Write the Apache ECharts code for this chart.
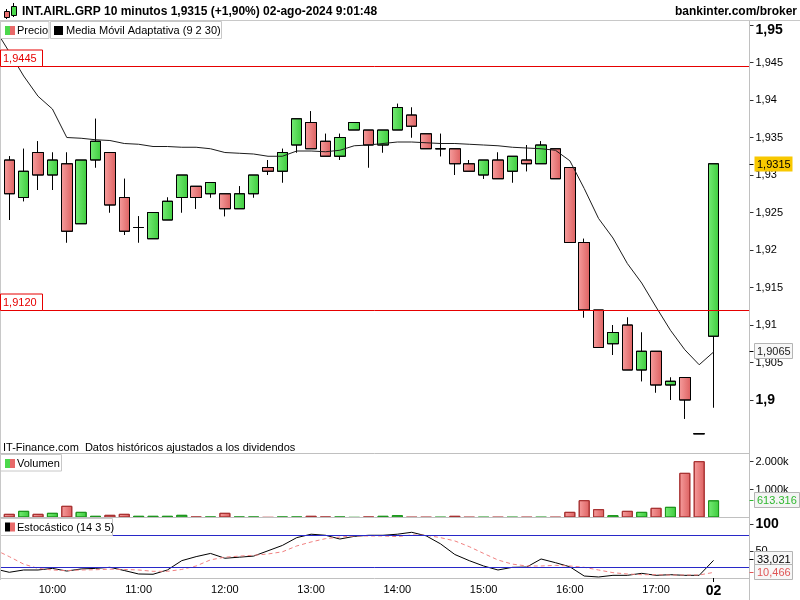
<!DOCTYPE html>
<html><head><meta charset="utf-8">
<script src="https://cdn.jsdelivr.net/npm/echarts@6/dist/echarts.min.js"></script>
<style>html,body{margin:0;padding:0;background:#fff}#c{width:800px;height:600px}</style>
</head><body><div id="c"></div>
<script>
// ---------- DATA ----------
const categories = ['9:20','9:30','9:40','9:50','10:00','10:10','10:20','10:30','10:40','10:50',
 '11:00','11:10','11:20','11:30','11:40','11:50','12:00','12:10','12:20','12:30','12:40','12:50',
 '13:00','13:10','13:20','13:30','13:40','13:50','14:00','14:10','14:20','14:30','14:40','14:50',
 '15:00','15:10','15:20','15:30','15:40','15:50','16:00','16:10','16:20','16:30','16:40','16:50',
 '17:00','17:10','17:20','17:30','02','',''];
const opens = [null,
 1.932,1.927,1.933,1.930,1.9315,1.9235,1.932,1.933,1.927,1.923,
 1.9215,1.924,1.927,1.9285,1.9275,1.9275,1.9255,1.9275,1.931,1.9305,
 1.934,1.937,1.9345,1.9325,1.936,1.936,1.934,1.936,1.938,1.9355,
 1.9335,1.9335,1.9315,1.930,1.932,1.9305,1.932,1.9315,1.9335,1.931,
 1.921,1.912,1.9075,1.910,1.904,1.9065,1.902,1.903,1.8955,1.9085];
const highs = [null,
 1.9325,1.9335,1.9345,1.933,1.933,1.932,1.9375,1.933,1.9295,1.9245,
 1.925,1.927,1.930,1.9285,1.929,1.9275,1.9285,1.930,1.932,1.9335,
 1.9375,1.9385,1.9355,1.9355,1.937,1.936,1.936,1.9395,1.939,1.9355,
 1.9355,1.9335,1.932,1.932,1.933,1.9325,1.934,1.9345,1.9335,1.931,
 1.9215,1.912,1.910,1.911,1.909,1.9065,1.903,1.903,1.8955,1.9315];
const lows = [null,
 1.924,1.9265,1.928,1.928,1.921,1.9235,1.931,1.925,1.922,1.921,
 1.9215,1.924,1.925,1.9255,1.927,1.9245,1.9255,1.927,1.930,1.929,
 1.933,1.9335,1.9325,1.932,1.936,1.931,1.933,1.936,1.935,1.9335,
 1.9325,1.930,1.9305,1.9295,1.9295,1.929,1.9305,1.9315,1.9295,1.921,
 1.911,1.907,1.906,1.904,1.9025,1.901,1.900,1.8975,1.8955,1.899];
const closes = [null,
 1.9275,1.9305,1.930,1.932,1.9225,1.932,1.9345,1.926,1.9225,1.923,
 1.925,1.9265,1.930,1.927,1.929,1.9255,1.9275,1.930,1.9305,1.933,
 1.9375,1.9335,1.9325,1.935,1.937,1.934,1.936,1.939,1.9365,1.9335,
 1.9335,1.9315,1.9305,1.932,1.9295,1.9325,1.9315,1.934,1.9295,1.921,
 1.912,1.907,1.909,1.904,1.9065,1.902,1.9025,1.900,1.8955,1.9315];
const maValues = [1.9495,
 1.9464,1.9432,1.9405,1.9388,1.9350,1.9349,1.9347,1.9346,1.9342,1.9341,
 1.9338,1.9338,1.9337,1.9337,1.9335,1.9330,1.9329,1.9328,1.9325,1.9325,
 1.9332,1.9332,1.9331,1.9333,1.9339,1.9340,1.9342,1.9344,1.9344,1.9343,
 1.9342,1.9342,1.9341,1.9340,1.9339,1.9337,1.9336,1.9335,1.9333,1.9319,
 1.9282,1.9242,1.9216,1.9182,1.9156,1.9124,1.9093,1.9067,1.9047,1.9064];
const volumes = [null,
 131,238,131,167,417,202,60,95,131,60,
 60,60,95,24,24,167,24,24,5,24,
 24,60,24,24,5,24,60,83,12,12,
 12,60,12,12,12,12,12,12,12,202,
 619,298,83,238,202,345,381,1595,2012,613.316];
const stochK = [17,
 10.7,15,15,18,13,17,18,20,14,7.5,
 7,15,32.5,40,46,37,39,41,51,61,
 75.6,82,80,73,78,80,80,82,85.6,79,
 64,44,32.5,22.5,15,20,20.5,35.6,28.7,21,
 3.7,1.9,5,5,8.7,5,6.2,5,5,33.021];
const stochD = [53,
 40,26,18,15,14,15,15.5,16.5,16,15,
 12.5,12.5,16,22.5,34,39,41,42.5,45,49,
 60,67.5,73.7,76.7,78.7,78.7,78.7,77.5,80.6,80,
 75.6,69.4,58.7,46,33.7,26,22.5,22.5,23.7,22.5,
 20,15,10,7.5,6.2,6.2,5.6,5.6,5.6,10.466];
const priceTicks = [1.9,1.905,1.91,1.915,1.92,1.925,1.93,1.935,1.94,1.945,1.95];
const volumeTicks = [1000, 2000];
const stochTicks = [50, 100];
const refLines = [1.9445, 1.9120];
const stochLevels = [20, 80];
const lastPrice = 1.9315, lastMA = 1.9065, lastVolume = 613.316, lastK = 33.021, lastD = 10.466;
const titleText = 'INT.AIRL.GRP 10 minutos 1,9315 (+1,90%) 02-ago-2024 9:01:48';

// ---------- STYLE ----------
const FONT = '"Liberation Sans", Arial, sans-serif';
const G = echarts.graphic.LinearGradient;
const greenG = () => new G(0,0,1,0,[{offset:0,color:'#76ec76'},{offset:1,color:'#3dcb3d'}]);
const redG = () => new G(0,0,1,0,[{offset:0,color:'#f69e9e'},{offset:1,color:'#dd6060'}]);
const fmtPrice = v => String(+(+v).toFixed(4)).replace('.', ',');
const fmtVol = v => { const s = String(Math.round(v)); return s.replace(/\B(?=(\d{3})+(?!\d))/g, '.') + 'k'; };
const isUp = k => closes[k] > opens[k] || (closes[k] === opens[k] && (k < 2 || closes[k] >= closes[k-1]));

const GL = -12.27, GR = 50.5;
const candleData = categories.map((c,k) => (k < opens.length && opens[k] != null) ? [opens[k], closes[k], lows[k], highs[k]] : '-');
const volData = categories.map((c,k) => {
  if (k >= volumes.length || volumes[k] == null) return '-';
  const up = isUp(k);
  return {value: volumes[k], itemStyle: {color: up ? greenG() : redG(), borderColor: up ? '#1e961e' : '#a83232', borderWidth: 1}};
});

const chart = echarts.init(document.getElementById('c'), null, {renderer:'canvas', width:800, height:600});
const hiddenX = (gi) => ({type:'category', gridIndex: gi, data: categories, boundaryGap: true, show: false});
const gridBase = {left: GL, right: GR, containLabel: false, outerBoundsMode: 'none'};
chart.setOption({
  animation: false,
  textStyle: {fontFamily: FONT},
  grid: [
    Object.assign({top: 25, height: 412.5}, gridBase),
    Object.assign({top: 454, height: 63.5}, gridBase),
    Object.assign({top: 524.6, height: 53.4}, gridBase)
  ],
  xAxis: [hiddenX(0), hiddenX(1), {
    type:'category', gridIndex: 2, data: categories, boundaryGap: true, offset: 2,
    axisLine: {show: true, lineStyle: {color: '#c0c0c0', width: 1}},
    axisTick: {show: true, alignWithLabel: true, length: 4, interval: (i, v) => v === '02', lineStyle: {color: '#000'}},
    axisLabel: {interval: (i, v) => /:00$/.test(v) || v === '02', margin: 4, fontSize: 11, color: '#000', fontFamily: FONT,
      formatter: v => v === '02' ? '{b|02}' : v,
      rich: {b: {fontWeight: 'bold', fontSize: 14, fontFamily: FONT, color: '#000'}}},
    splitLine: {show: false}
  }],
  yAxis: [
    {type:'value', gridIndex: 0, position: 'right', min: 1.895, max: 1.95, interval: 0.005,
     splitLine: {show:false}, axisLine: {show:false},
     axisTick: {show:true, length:4, customValues: priceTicks, lineStyle:{color:'#333'}},
     axisLabel: {customValues: priceTicks, margin: 6, fontSize: 11, color:'#000', fontFamily: FONT,
       formatter: v => { const s = fmtPrice(v); if (Math.abs(v-1.95)<1e-9) return '{t|'+s+'}'; if (Math.abs(v-1.9)<1e-9) return '{b|'+s+'}'; if (!priceTicks.some(t=>Math.abs(t-v)<1e-9)) return ''; return s; },
       rich: {b:{fontWeight:'bold', fontSize:14, fontFamily:FONT, color:'#000'}, t:{fontWeight:'bold', fontSize:14, fontFamily:FONT, color:'#000', padding:[10,0,0,0]}}}},
    {type:'value', gridIndex: 1, position: 'right', min: 0, max: 63.5/28*1000,
     splitLine: {show:false}, axisLine: {show:false},
     axisTick: {show:true, length:4, customValues: volumeTicks, lineStyle:{color:'#333'}},
     axisLabel: {customValues: volumeTicks, margin: 6, fontSize: 11, color:'#000', fontFamily: FONT,
       formatter: v => volumeTicks.includes(v) ? fmtVol(v) : ''}},
    {type:'value', gridIndex: 2, position: 'right', min: 0, max: 100, interval: 50,
     splitLine: {show:false}, axisLine: {show:false},
     axisTick: {show:true, length:4, customValues: stochTicks, lineStyle:{color:'#333'}},
     axisLabel: {customValues: stochTicks, margin: 6, fontSize: 11, color:'#000', fontFamily: FONT,
       formatter: v => v === 100 ? '{b|100}' : (v === 50 ? '50' : ''),
       rich: {b:{fontWeight:'bold', fontSize:14, fontFamily:FONT, color:'#000'}}}}
  ],
  series: [
    {type:'candlestick', xAxisIndex:0, yAxisIndex:0, data: candleData, barWidth: 11,
     itemStyle: {color: greenG(), color0: redG(), borderColor:'#000', borderColor0:'#000', borderColorDoji:'#000', borderWidth: 1},
     markLine: {silent: true, precision: 6, symbol: ['none','none'], label: {show:false},
       lineStyle: {color:'#e60000', type:'solid', width:1},
       data: refLines.map(v => ({yAxis: v}))}},
    {type:'line', xAxisIndex:0, yAxisIndex:0, data: maValues, showSymbol:false, symbol:'none',
     lineStyle: {color:'#1c1c1c', width:1}},
    {type:'bar', xAxisIndex:1, yAxisIndex:1, data: volData, barWidth: 11},
    {type:'line', xAxisIndex:2, yAxisIndex:2, data: stochK, symbol:'none', lineStyle:{color:'#000', width:1},
     markLine: {silent:true, precision: 4, symbol:['none','none'], label:{show:false},
       lineStyle:{color:'#2828c8', type:'solid', width:1}, data: stochLevels.map(v => ({yAxis: v}))}},
    {type:'line', xAxisIndex:2, yAxisIndex:2, data: stochD, symbol:'none', lineStyle:{color:'#f08080', width:1, type:[4,3]}}
  ]
});

// ---------- OVERLAY GRAPHICS ----------
const py = v => chart.convertToPixel({yAxisIndex:0}, v);
const vy = v => chart.convertToPixel({yAxisIndex:1}, v);
const sy = v => chart.convertToPixel({yAxisIndex:2}, v);
const Z = 100;
const line = (x1,y1,x2,y2,c) => ({type:'line', z:Z, shape:{x1,y1,x2,y2}, style:{stroke:c, lineWidth:1}});
const rect = (x,y,w,h,fill,stroke) => ({type:'rect', z:Z, shape:{x,y,width:w,height:h}, style:{fill, stroke: stroke||null, lineWidth:1}});
const text = (x,y,t,font,fill,align) => ({type:'text', z:Z+1, x, y, style:{text:t, font, fill, align: align||'left', verticalAlign:'middle'}});
const F11 = '11px ' + FONT, B12 = 'bold 12px ' + FONT;
const valueBox = (y, t, txtColor, fill, stroke, tickColor, w) => [
  line(749.5, Math.round(y)+0.5, 753.5, Math.round(y)+0.5, tickColor),
  rect(754.5, Math.round(y)-7.5, w || 37, 15, fill, stroke),
  text(757, Math.round(y)+0.5, t, F11, txtColor)
];
const gfx = [];
// frame lines
gfx.push(line(0, 20.5, 800, 20.5, '#c8c8c8'));
gfx.push(line(749.5, 21, 749.5, 600, '#c0c0c0'));
gfx.push(line(0.5, 21, 0.5, 580, '#c8c8c8'));
gfx.push(line(0, 453.5, 749.5, 453.5, '#c0c0c0'));
gfx.push(line(0, 517.5, 749.5, 517.5, '#c0c0c0'));
// title
gfx.push(line(6.5, 9, 6.5, 19, '#000'), rect(4.5, 11.5, 5, 6, '#ea7070', '#000'));
gfx.push(line(13.5, 3, 13.5, 17, '#000'), rect(11.5, 6.5, 5, 9, '#4cd84c', '#000'));
gfx.push(text(22, 12, titleText, B12, '#000'));
gfx.push(text(797, 12, 'bankinter.com/broker', B12, '#000', 'right'));
// legends
gfx.push(rect(0.5, 21.5, 48.5, 17, '#fff', '#c8c8c8'), rect(5, 26, 5, 9, '#4cd84c'), rect(10, 26, 5, 9, '#e86a6a'), text(17, 30.5, 'Precio', F11, '#000'));
gfx.push(rect(50.5, 21.5, 171, 17, '#fff', '#c8c8c8'), rect(54, 26, 9, 9, '#000'), text(66, 30.5, 'Media Móvil Adaptativa (9 2 30)', F11, '#000'));
gfx.push(text(3, 448, 'IT-Finance.com  Datos históricos ajustados a los dividendos', F11, '#000'));
gfx.push(rect(0.5, 454.5, 61, 16.5, '#fff', '#c8c8c8'), rect(5, 459, 5, 9, '#4cd84c'), rect(10, 459, 5, 9, '#e86a6a'), text(17, 463.5, 'Volumen', F11, '#000'));
gfx.push(rect(0.5, 518.5, 112, 17, '#fff', '#c8c8c8'), rect(5, 522.5, 5, 9, '#000'), rect(10, 522.5, 5, 9, '#e86a6a'), text(17, 527.5, 'Estocástico (14 3 5)', F11, '#000'));
// reference line labels
refLines.forEach(v => {
  const y = Math.round(py(v)) + 0.5;
  gfx.push(rect(0.5, y-16.5, 42, 16.5, '#fff', '#e60000'), text(3, y-8, v.toFixed(4).replace('.', ','), F11, '#e60000'));
});
// value labels on right axis
gfx.push(...valueBox(py(lastPrice), fmtPrice(lastPrice), '#000', '#f8c800', null, '#000', 38));
gfx.push(...valueBox(py(lastMA), fmtPrice(lastMA), '#222', '#f7f7f7', '#b4b4b4', '#000', 38));
gfx.push(...valueBox(vy(lastVolume), '613.316', '#2fb82f', '#f4f4f4', '#b4b4b4', '#2fb82f', 45));
gfx.push(...valueBox(sy(lastK)-1.5, String(lastK).replace('.', ','), '#000', '#f7f7f7', '#b4b4b4', '#000', 38));
gfx.push(...valueBox(sy(lastD), String(lastD).replace('.', ','), '#e05555', '#f7f7f7', '#b4b4b4', '#e05555', 38));
chart.setOption({graphic: gfx});
</script>
</body></html>
